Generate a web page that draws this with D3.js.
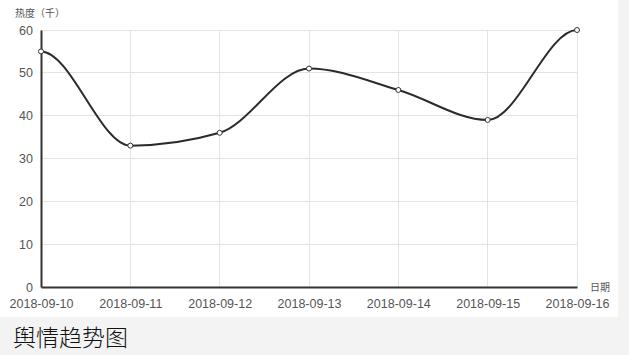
<!DOCTYPE html>
<html><head><meta charset="utf-8">
<script src="https://cdn.jsdelivr.net/npm/d3@7"></script>
<style>
html,body{margin:0;padding:0;background:#f3f3f3;}
svg{display:block;font-family:"Noto Sans","Noto Sans CJK SC",sans-serif;}
</style></head>
<body>
<svg id="c" width="629" height="355"></svg>
<script>
const categories = ["2018-09-10","2018-09-11","2018-09-12","2018-09-13","2018-09-14","2018-09-15","2018-09-16"];
const values = [55, 33, 36, 51, 46, 39, 60];
const yTicks = [0, 10, 20, 30, 40, 50, 60];
const yName = "热度（千）";
const xName = "日期";
const title = "舆情趋势图";

const svg = d3.select("#c");
svg.append("rect").attr("x",0).attr("y",0).attr("width",618).attr("height",317).attr("fill","#ffffff");

const x = d3.scalePoint().domain(categories).range([41, 577]);
const y = d3.scaleLinear().domain([0, 60]).range([287, 30]);

// grid
const g = svg.append("g");
g.selectAll("line.h").data(yTicks.filter(d=>d>0)).enter().append("line")
  .attr("x1", 41).attr("x2", 577).attr("y1", d=>y(d)).attr("y2", d=>y(d))
  .attr("stroke", "#e3e3e3").attr("stroke-width", 1).attr("shape-rendering","crispEdges");
g.selectAll("line.v").data(categories.slice(1)).enter().append("line")
  .attr("x1", d=>x(d)).attr("x2", d=>x(d)).attr("y1", y(60)).attr("y2", y(0))
  .attr("stroke", "#e3e3e3").attr("stroke-width", 1).attr("shape-rendering","crispEdges");

// axes
const yAxis = d3.axisLeft(y).tickValues(yTicks).tickSize(0).tickPadding(8);
const ya = svg.append("g").attr("transform","translate(41,0)").call(yAxis);
ya.select(".domain").attr("stroke","#333").attr("stroke-width",2);
ya.selectAll("text").attr("fill","#555").style("font-size","12.5px");

const xAxis = d3.axisBottom(x).tickSize(0).tickPadding(12);
const xa = svg.append("g").attr("transform","translate(0,287)").call(xAxis);
xa.select(".domain").attr("stroke","#333").attr("stroke-width",2);
xa.selectAll("text").attr("fill","#555").style("font-size","12.5px");

svg.append("text").attr("x",15).attr("y",17).text(yName)
  .attr("fill","#555").style("font-size","10px").style("font-family","'Noto Sans CJK SC',sans-serif");
svg.append("text").attr("x",590).attr("y",291).text(xName)
  .attr("fill","#555").style("font-size","10px").style("font-family","'Noto Sans CJK SC',sans-serif");

// custom curve: monotone interior tangents, flat at extremes and ends
function curveFlatEnds(context){
  return {
    pts: [],
    areaStart(){}, areaEnd(){},
    lineStart(){ this.pts = []; },
    point(px,py){ this.pts.push([+px,+py]); },
    lineEnd(){
      const p = this.pts, n = p.length;
      if(!n) return;
      const m = new Array(n).fill(0);
      for(let i=1;i<n-1;i++){
        const h0 = p[i][0]-p[i-1][0], h1 = p[i+1][0]-p[i][0];
        const s0 = (p[i][1]-p[i-1][1])/h0, s1 = (p[i+1][1]-p[i][1])/h1;
        if(s0*s1 <= 0){ m[i] = 0; continue; }
        const pp = (s0*h1 + s1*h0)/(h0+h1);
        m[i] = (Math.sign(s0)+Math.sign(s1))*Math.min(Math.abs(s0),Math.abs(s1),0.5*Math.abs(pp));
      }
      context.moveTo(p[0][0], p[0][1]);
      for(let i=0;i<n-1;i++){
        const dx = (p[i+1][0]-p[i][0])/3;
        context.bezierCurveTo(p[i][0]+dx, p[i][1]+m[i]*dx, p[i+1][0]-dx, p[i+1][1]-m[i+1]*dx, p[i+1][0], p[i+1][1]);
      }
    }
  };
}

const line = d3.line().x((d,i)=>x(categories[i])).y(d=>y(d)).curve(curveFlatEnds);
svg.append("path").datum(values).attr("d", line)
  .attr("fill","none").attr("stroke","#2b2b2b").attr("stroke-width",2);

svg.selectAll("circle.pt").data(values).enter().append("circle")
  .attr("cx",(d,i)=>x(categories[i])).attr("cy",d=>y(d)).attr("r",2.5)
  .attr("fill","#fff").attr("stroke","#333").attr("stroke-width",1);

svg.append("text").attr("x",13).attr("y",346).text(title)
  .attr("fill","#111").style("font-size","23px").style("font-weight","300").style("font-family","'Noto Sans CJK SC',serif");
</script>
</body></html>
